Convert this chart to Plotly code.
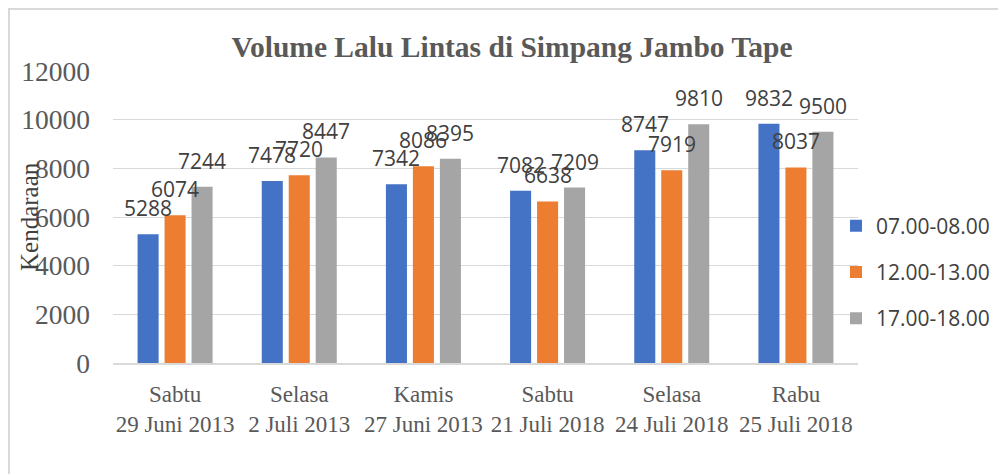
import plotly.graph_objects as go

categories = [
    "Sabtu<br>29 Juni 2013",
    "Selasa<br>2 Juli 2013",
    "Kamis<br>27 Juni 2013",
    "Sabtu<br>21 Juli 2018",
    "Selasa<br>24 Juli 2018",
    "Rabu<br>25 Juli 2018",
]
series_names = ["07.00-08.00", "12.00-13.00", "17.00-18.00"]
pagi = [5288, 7478, 7342, 7082, 8747, 9832]
siang = [6074, 7720, 8086, 6638, 7919, 8037]
sore = [7244, 8447, 8395, 7209, 9810, 9500]
colors = ["#4472C4", "#ED7D31", "#A5A5A5"]
y_ticks = [0, 2000, 4000, 6000, 8000, 10000, 12000]

# page has an 8px body margin, so the figure is drawn from (8, 8)
W, H = 998, 466
ML, MR, MT, MB = 105, 148, 63, 111
BARGAP = 0.348
plot_w = W - ML - MR
plot_h = H - MT - MB
slot = plot_w / len(categories) * (1 - BARGAP) / 3

fig = go.Figure()
all_series = [pagi, siang, sore]
for i, (name, vals) in enumerate(zip(series_names, all_series)):
    fig.add_trace(go.Bar(
        x=categories, y=vals, name=name,
        marker=dict(color=colors[i], line=dict(width=0)),
        legendgroup=name,
    ))

annotations = []
for i, vals in enumerate(all_series):
    for c, v in zip(categories, vals):
        annotations.append(dict(
            x=c, y=v, xref="x", yref="y", text=str(v), showarrow=False,
            xshift=(i - 1) * slot, yshift=10, yanchor="bottom",
            font=dict(family="Open Sans", size=21, color="#404040"),
        ))

annotations.append(dict(
    text="Kendaraan", textangle=-90, showarrow=False,
    xref="paper", yref="paper", x=(21 - ML) / plot_w, y=(355 - 209) / plot_h,
    xanchor="center", yanchor="middle",
    font=dict(family="Liberation Serif", size=25, color="#404040"),
))

fig.update_layout(
    width=W, height=H,
    margin=dict(l=ML, r=MR, t=MT, b=MB, autoexpand=False),
    paper_bgcolor="white", plot_bgcolor="white",
    barmode="group", bargap=BARGAP, bargroupgap=0.22,
    title=dict(
        text="<b>Volume Lalu Lintas di Simpang Jambo Tape</b>",
        x=504 / W, xanchor="center", y=1 - 39 / H, yanchor="middle",
        font=dict(family="Liberation Serif", size=29.5, color="#595959"),
    ),
    legend=dict(
        x=(828 - ML) / plot_w, xanchor="left",
        y=(355 - 264) / plot_h, yanchor="middle",
        font=dict(family="Open Sans", size=21, color="#404040"),
        tracegroupgap=16, itemwidth=30, bgcolor="rgba(0,0,0,0)",
    ),
    annotations=annotations,
    shapes=[dict(
        type="rect", xref="paper", yref="paper",
        x0=(1 - ML) / plot_w, x1=(1030 - ML) / plot_w,
        y0=-1.0, y1=(355 - 1) / plot_h,
        line=dict(color="#D9D9D9", width=2), fillcolor="rgba(0,0,0,0)",
        layer="below",
    )],
)
fig.update_xaxes(
    showgrid=False, showline=True, linecolor="#D9D9D9", linewidth=2,
    ticks="", ticklabelstandoff=9,
    tickfont=dict(family="Liberation Serif", size=23, color="#595959"),
)
fig.update_yaxes(
    range=[0, 12000], tickvals=y_ticks, tickformat="d",
    showgrid=True, gridcolor="#D9D9D9",
    gridwidth=1, zeroline=False, showline=False, ticks="",
    ticklabelstandoff=22,
    tickfont=dict(family="Liberation Serif", size=27.5, color="#595959"),
)

fig.write_html("out.html")
